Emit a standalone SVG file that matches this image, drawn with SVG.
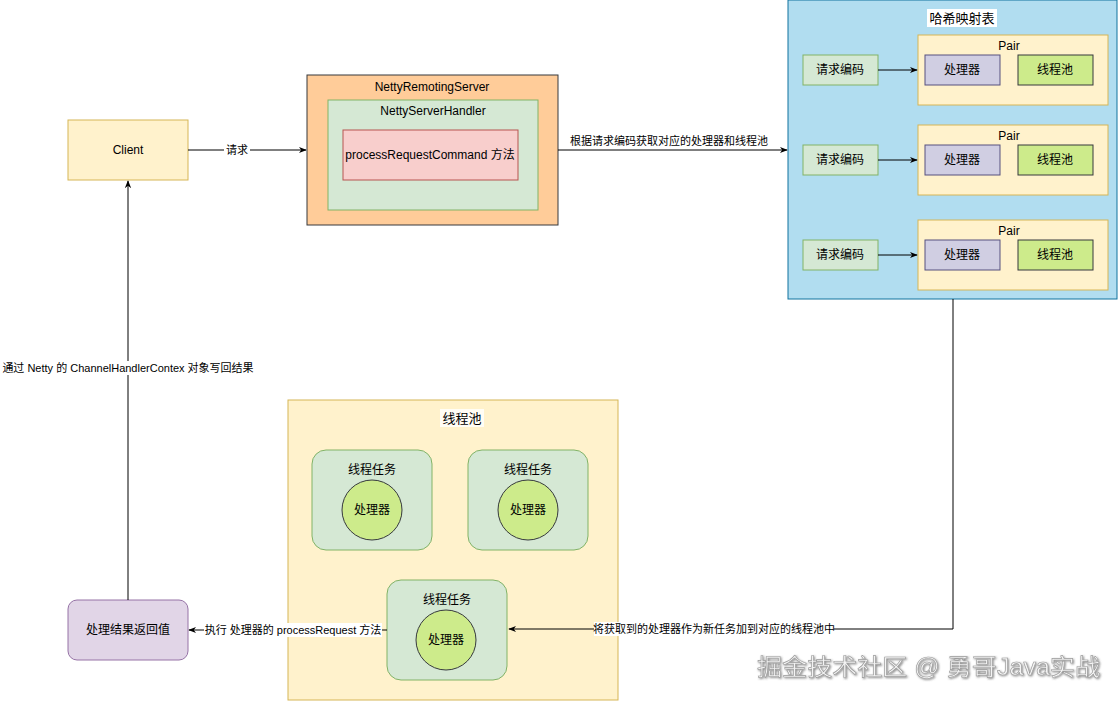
<svg xmlns="http://www.w3.org/2000/svg" width="1120" height="702" viewBox="0 0 1120 702">
<defs>
<style>
text{font-family:"Liberation Sans","Noto Sans CJK SC",sans-serif;fill:#000;text-anchor:middle;dominant-baseline:central;}
.n{font-size:12px;}
.e{font-size:11px;}
.t{font-size:13px;}
.line{fill:none;stroke:#000;stroke-width:1;}
.yel{fill:#fff2cc;stroke:#d6b656;}
.grn{fill:#d5e8d4;stroke:#82b366;}
.pur{fill:#d0cee2;stroke:#56517e;}
.lime{fill:#cdeb8b;stroke:#36393d;}
.lbl{fill:#fff;stroke:none;}
.wm{font-size:23px;fill:#f4f4f4;stroke:#9a9a9a;stroke-width:0.6;text-anchor:start;filter:url(#sh);}
</style>
<marker id="arr" viewBox="0 0 10 10" refX="9" refY="5" markerWidth="8" markerHeight="8" orient="auto" markerUnits="userSpaceOnUse">
<path d="M0,1 L10,5 L0,9 L3,5 Z" fill="#000"/>
</marker>
<filter id="sh" x="-5%" y="-30%" width="110%" height="160%">
<feDropShadow dx="1" dy="1" stdDeviation="0.8" flood-color="#555" flood-opacity="0.7"/>
</filter>
</defs>
<rect width="1120" height="702" fill="#fff"/>

<g id="client">
<rect class="yel" x="68" y="120" width="120" height="60"/>
<text class="n" x="128" y="150">Client</text>
</g>

<g id="server">
<rect x="307" y="75" width="251" height="150" fill="#ffcc99" stroke="#36393d"/>
<text class="n" x="432" y="87">NettyRemotingServer</text>
<g id="handler">
<rect class="grn" x="328" y="100" width="210" height="110"/>
<text class="n" x="433" y="111">NettyServerHandler</text>
<g id="processRequestCommand">
<rect x="343" y="130" width="175" height="50" fill="#f8cecc" stroke="#b85450"/>
<text class="n" x="430" y="155">processRequestCommand 方法</text>
</g>
</g>
</g>

<g id="hashmap">
<rect x="788" y="0" width="329" height="299" fill="#b1ddf0" stroke="#10739e"/>
<rect class="lbl" x="927" y="9" width="70" height="18"/>
<text class="t" x="962" y="18">哈希映射表</text>
<g id="pair1">
<rect class="yel" x="918" y="35" width="190" height="70"/>
<text class="n" x="1009" y="46">Pair</text>
<rect class="pur" x="925" y="55" width="75" height="30"/>
<text class="n" x="962" y="70">处理器</text>
<rect class="lime" x="1018" y="55" width="75" height="30"/>
<text class="n" x="1055" y="70">线程池</text>
</g>
<g id="key1">
<rect class="grn" x="803" y="55" width="75" height="30"/>
<text class="n" x="840" y="70">请求编码</text>
</g>
<g id="pair2">
<rect class="yel" x="918" y="125" width="190" height="70"/>
<text class="n" x="1009" y="136">Pair</text>
<rect class="pur" x="925" y="145" width="75" height="30"/>
<text class="n" x="962" y="160">处理器</text>
<rect class="lime" x="1018" y="145" width="75" height="30"/>
<text class="n" x="1055" y="160">线程池</text>
</g>
<g id="key2">
<rect class="grn" x="803" y="145" width="75" height="30"/>
<text class="n" x="840" y="160">请求编码</text>
</g>
<g id="pair3">
<rect class="yel" x="918" y="220" width="190" height="70"/>
<text class="n" x="1009" y="231">Pair</text>
<rect class="pur" x="925" y="240" width="75" height="30"/>
<text class="n" x="962" y="255">处理器</text>
<rect class="lime" x="1018" y="240" width="75" height="30"/>
<text class="n" x="1055" y="255">线程池</text>
</g>
<g id="key3">
<rect class="grn" x="803" y="240" width="75" height="30"/>
<text class="n" x="840" y="255">请求编码</text>
</g>
</g>

<g id="threadpool">
<rect class="yel" x="288" y="400" width="330" height="300"/>
<rect class="lbl" x="440" y="409" width="44" height="18" fill-opacity="0.8"/>
<text class="t" x="462" y="418">线程池</text>
<g id="task1">
<rect class="grn" x="312" y="450" width="120" height="100" rx="14"/>
<text class="n" x="372" y="470">线程任务</text>
<circle class="lime" cx="372" cy="510" r="30"/>
<text class="n" x="372" y="510">处理器</text>
</g>
<g id="task2">
<rect class="grn" x="468" y="450" width="120" height="100" rx="14"/>
<text class="n" x="528" y="470">线程任务</text>
<circle class="lime" cx="528" cy="510" r="30"/>
<text class="n" x="528" y="510">处理器</text>
</g>
<g id="task3">
<rect class="grn" x="387" y="580" width="120" height="100" rx="14"/>
<text class="n" x="447" y="600">线程任务</text>
<circle class="lime" cx="446" cy="640" r="30"/>
<text class="n" x="446" y="640">处理器</text>
</g>
</g>

<g id="result">
<rect x="68" y="600" width="120" height="60" rx="9" fill="#e1d5e7" stroke="#9673a6"/>
<text class="n" x="128" y="630">处理结果返回值</text>
</g>

<g id="connectors">
<path class="line" d="M188,150 H306" marker-end="url(#arr)"/>
<rect class="lbl" x="224" y="143" width="26" height="14"/>
<text class="e" x="237" y="150">请求</text>

<path class="line" d="M558,150 H787" marker-end="url(#arr)"/>
<text class="e" x="669" y="141">根据请求编码获取对应的处理器和线程池</text>

<path class="line" d="M878,70 H917" marker-end="url(#arr)"/>
<path class="line" d="M878,160 H917" marker-end="url(#arr)"/>
<path class="line" d="M878,255 H917" marker-end="url(#arr)"/>

<path class="line" d="M953,299 V629 H509" marker-end="url(#arr)"/>
<rect class="lbl" x="594" y="622" width="240" height="14"/>
<text class="e" x="714" y="629">将获取到的处理器作为新任务加到对应的线程池中</text>

<path class="line" d="M387,630 H189" marker-end="url(#arr)"/>
<rect class="lbl" x="204" y="623" width="178" height="14"/>
<text class="e" x="293" y="630">执行 处理器的 processRequest 方法</text>

<path class="line" d="M128,600 V181" marker-end="url(#arr)"/>
<rect class="lbl" x="0" y="361" width="256" height="14"/>
<text class="e" x="128" y="368">通过 Netty 的 ChannelHandlerContex 对象写回结果</text>
</g>

<text class="wm" x="757" y="667" textLength="343" lengthAdjust="spacingAndGlyphs">掘金技术社区 @ 勇哥Java实战</text>
</svg>
